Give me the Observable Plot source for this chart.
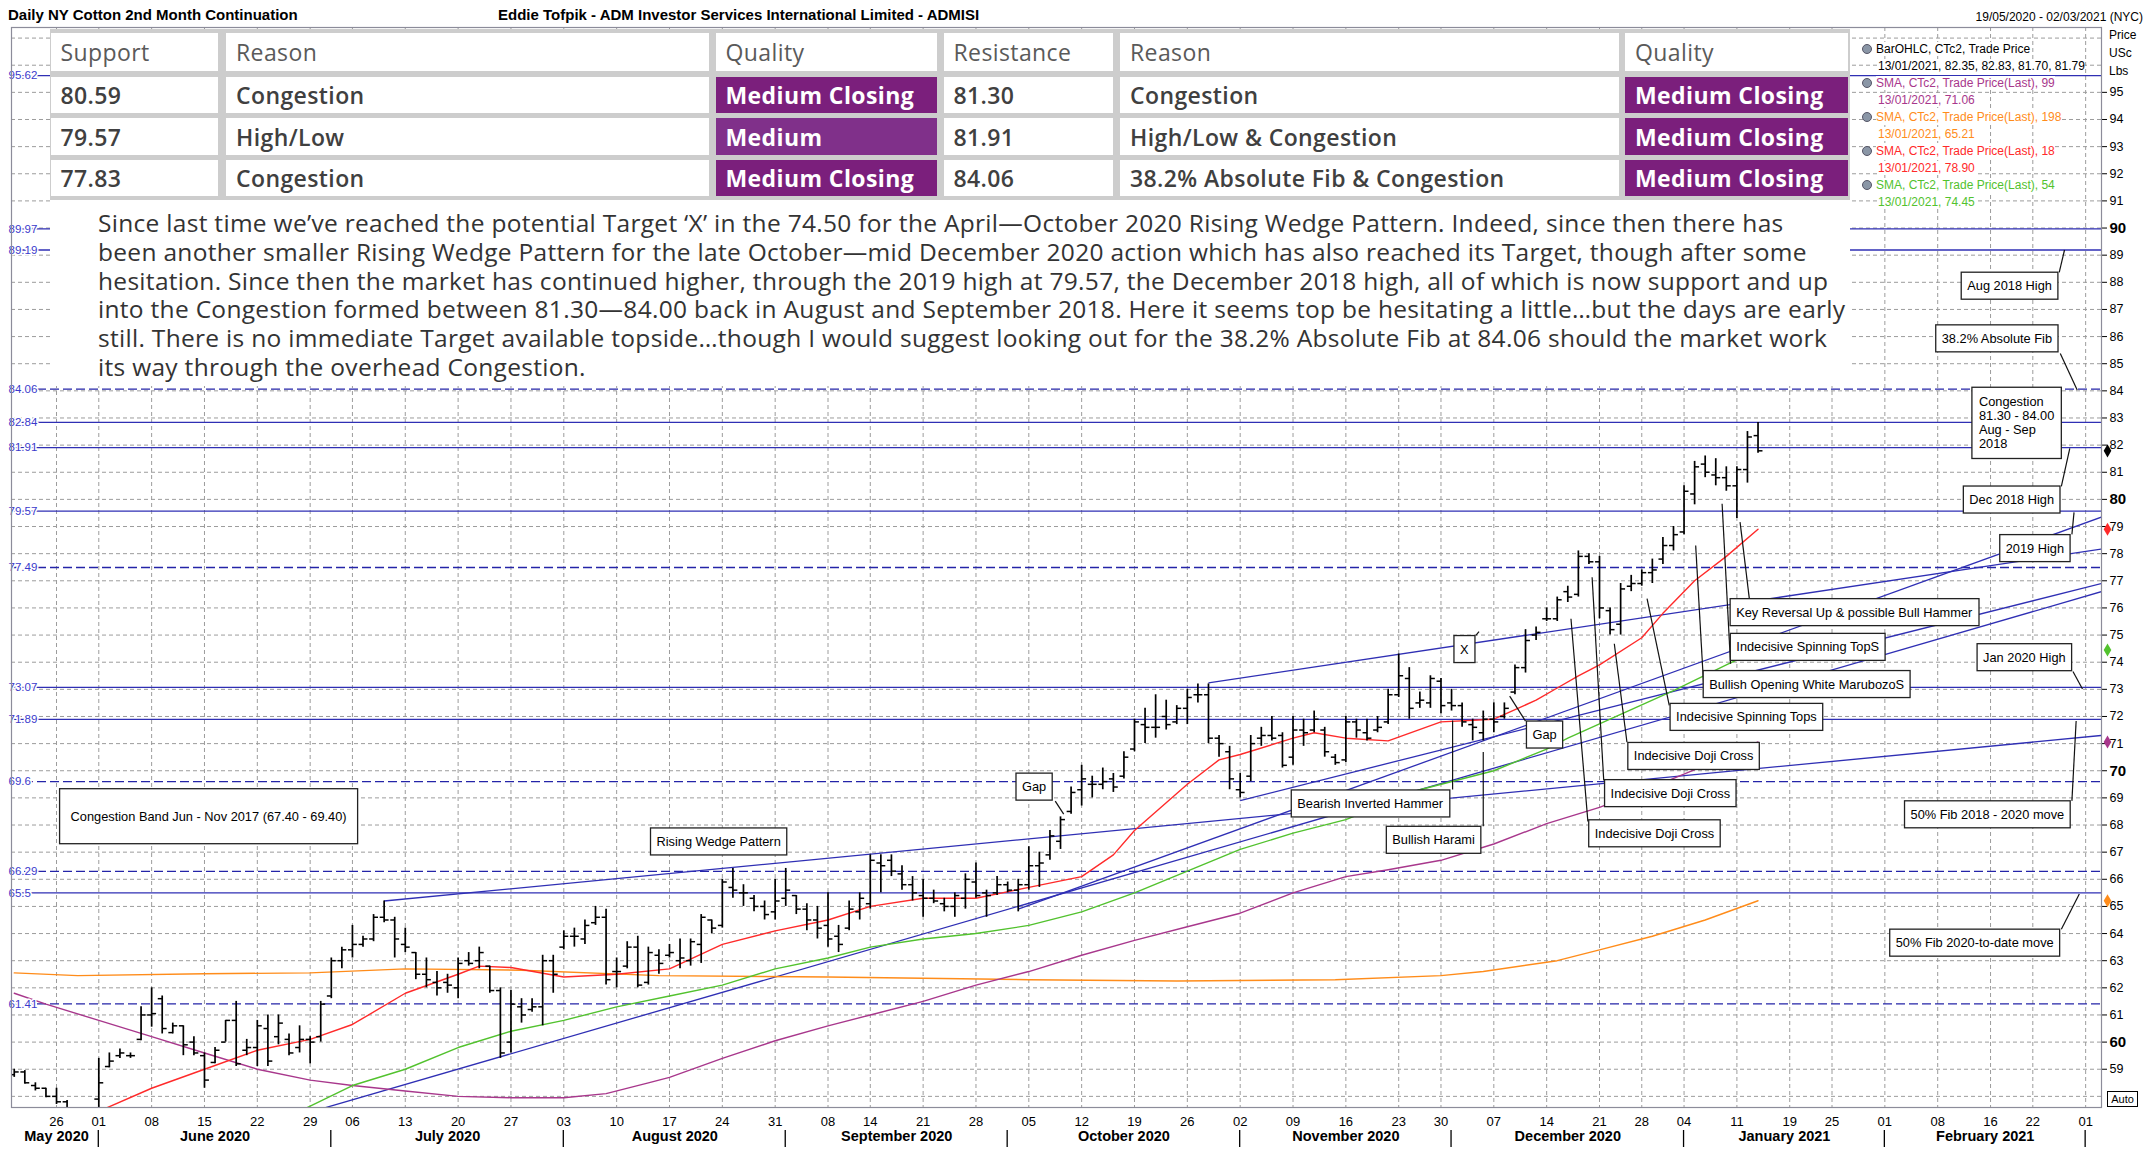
<!DOCTYPE html>
<html>
<head>
<meta charset="utf-8">
<script src="https://cdn.jsdelivr.net/npm/d3@7"></script>
<script src="https://cdn.jsdelivr.net/npm/@observablehq/plot@0.6"></script>
<style>
html,body{margin:0;padding:0;background:#fff;}
#wrap{position:relative;width:2149px;height:1163px;overflow:hidden;font-family:"Liberation Sans",Arial,sans-serif;background:#fff;}
#plot{position:absolute;left:0;top:27px;}
.hdr{position:absolute;top:6px;font-weight:bold;font-size:15px;color:#000;white-space:nowrap;}
#range{position:absolute;top:10px;right:6px;font-size:12px;white-space:nowrap;}
#tbl{position:absolute;left:50px;top:29px;width:1800px;height:171px;background:#cdcdcd;}
.cell{position:absolute;display:flex;align-items:center;box-sizing:border-box;padding-left:10px;font-family:"Open Sans",sans-serif;font-size:23px;letter-spacing:0.4px;white-space:nowrap;background:#fff;color:#404040;font-weight:600;}
.cell.h{color:#5a5a5a;font-weight:500;}
.cell.q{color:#fff;background:#7b1f7c;font-weight:700;}
#para{position:absolute;left:50px;top:200px;width:1800px;height:186px;background:#fff;font-family:"Open Sans",sans-serif;font-size:24.5px;letter-spacing:0.3px;line-height:28.8px;color:#333;box-sizing:border-box;padding:9px 0 0 48px;white-space:nowrap;}
#legend{position:absolute;left:1862px;top:41px;font-size:12px;line-height:17px;}
.lg{white-space:nowrap;height:17px;}
.lg span.t{background:#fff;}
.ico{display:inline-block;width:10px;height:10px;border-radius:50%;background:#8a96a6;border:1px solid #556;box-sizing:border-box;vertical-align:-1px;margin-right:4px;}
.ax{position:absolute;left:2109px;font-size:12px;}
#auto{position:absolute;left:2107px;top:1091px;width:31px;height:16px;border:1px solid #000;font-size:11px;line-height:14px;text-align:center;box-sizing:border-box;background:#fff;}
</style>
</head>
<body>
<div id="wrap">
  <div class="hdr" style="left:8px">Daily NY Cotton 2nd Month Continuation</div>
  <div class="hdr" style="left:498px">Eddie Tofpik - ADM Investor Services International Limited - ADMISI</div>
  <div id="range">19/05/2020 - 02/03/2021 (NYC)</div>
  <div id="plot"></div>
  <div id="tbl"></div>
  <div id="para"></div>
  <div id="legend"></div>
  <div class="ax" style="top:28px">Price</div>
  <div class="ax" style="top:46px">USc</div>
  <div class="ax" style="top:64px">Lbs</div>
  <div id="auto">Auto</div>
</div>
<script>
// ---------------- DATA ----------------
const startDate = "2020-05-19", endDate = "2021-03-02";
const holidays = ["2020-05-25","2020-07-03","2020-09-07","2020-11-26","2020-12-25","2021-01-01","2021-01-18","2021-02-15"];

// OHLC bars, one per trading day from 19/05/2020 to 13/01/2021
const barOpen = [
58.8,58.9,58.4,58.3,58.0,57.8,57.3,57.2,57.9,59.1,
59.5,59.5,60.1,61.0,61.6,60.35,60.6,60.0,59.5,59.25,
60.0,60.8,59.7,59.8,60.5,60.2,60.1,59.8,60.1,60.2,
61.7,63.0,63.4,63.6,63.8,64.6,64.5,63.6,63.3,62.5,
62.2,62.2,62.0,63.0,63.0,62.8,61.9,60.0,61.3,61.2,
61.3,63.0,63.5,63.9,63.8,64.4,64.6,62.6,62.8,63.5,
62.2,63.2,63.2,63.0,63.0,63.6,64.5,64.3,65.7,65.5,
65.3,65.0,64.8,65.3,65.4,64.9,64.5,64.3,63.9,64.2,
64.8,65.1,66.6,66.7,66.2,65.8,65.4,65.3,65.1,65.0,
65.3,65.9,65.5,65.5,65.8,65.6,65.8,66.5,66.9,67.4,
68.5,69.3,69.5,69.5,69.7,69.8,70.8,71.7,71.6,72.0,
71.8,72.3,72.8,72.8,71.2,70.7,69.3,69.8,71.2,71.3,
71.3,70.5,71.5,71.5,71.5,70.5,70.4,71.8,71.4,71.5,
71.8,72.8,73.4,72.5,72.5,73.3,72.5,72.4,71.7,71.4,
71.9,72.0,72.9,73.8,75.0,75.6,75.6,76.6,76.5,77.9,
77.7,75.9,75.4,76.8,76.9,77.3,77.8,78.3,78.8,80.2,
81.3,80.9,80.8,80.5,81.1,82.35];
const barHigh = [
59.0,58.95,58.5,58.3,58.3,57.85,57.5,57.45,59.4,59.6,
59.75,59.6,61.3,62.0,61.7,60.7,60.6,60.2,59.6,59.8,
60.8,61.5,60.1,60.8,61.0,61.0,60.3,60.6,60.2,61.5,
63.1,63.5,64.3,63.9,64.7,65.2,64.6,64.2,63.3,63.1,
62.6,62.5,63.1,63.3,63.5,62.8,62.0,61.9,61.6,61.6,
63.2,63.2,64.1,64.2,64.5,65.0,64.9,63.1,63.7,63.9,
63.5,63.4,63.6,63.8,63.8,64.7,64.5,66.0,66.4,65.8,
65.4,65.2,66.0,66.4,65.4,65.1,65.0,65.5,64.3,65.2,
65.5,66.9,66.9,66.9,66.5,66.1,66.0,65.6,65.3,65.5,
66.2,66.6,65.6,66.1,65.9,66.0,67.2,67.0,67.8,68.3,
69.4,70.2,69.8,70.1,69.9,70.7,71.9,72.3,72.8,72.6,
72.4,73.0,73.2,73.2,71.3,70.9,69.9,71.3,71.6,72.0,
71.4,72.0,71.9,72.2,71.6,70.6,72.0,71.9,71.9,72.0,
73.0,74.3,73.8,72.9,73.5,73.4,73.0,72.5,71.9,72.2,
72.5,72.5,73.9,75.2,75.3,76.0,76.4,76.8,78.1,78.0,
77.9,76.0,76.9,77.2,77.4,77.8,78.6,79.0,80.5,81.4,
81.6,81.5,81.2,81.2,82.5,82.83];
const barLow = [
58.7,58.45,58.2,57.95,57.7,57.45,56.9,56.9,57.4,59.05,
59.4,59.4,60.05,60.55,60.3,60.3,59.5,59.5,58.3,59.2,
60.0,59.1,59.5,59.1,59.1,59.9,59.5,59.6,59.2,60.0,
61.6,62.7,63.1,63.5,63.7,64.4,63.1,63.3,62.3,62.0,
61.7,61.8,61.6,62.8,62.7,61.8,59.4,59.6,60.7,61.1,
60.6,61.8,63.4,63.5,63.6,64.3,62.1,62.0,62.7,62.0,
62.1,62.5,63.1,62.7,62.8,62.9,64.0,64.2,65.3,65.0,
64.8,64.5,64.5,65.0,64.7,64.1,63.8,63.5,63.3,64.1,
64.5,64.9,65.5,66.1,65.6,65.2,64.6,65.1,64.8,64.6,
64.9,65.3,64.6,65.4,65.5,64.8,65.6,65.7,66.7,67.1,
68.4,68.7,69.0,69.3,69.2,69.7,70.7,71.0,71.2,71.5,
71.7,71.7,72.5,71.0,70.5,69.3,69.0,69.6,70.9,71.1,
70.1,70.2,70.9,71.4,70.5,70.2,70.3,71.2,71.1,71.4,
71.7,72.7,71.9,72.3,72.3,72.1,72.2,71.6,71.1,71.1,
71.4,71.9,72.8,73.6,74.8,75.5,75.5,76.2,76.4,77.6,
75.6,75.0,75.0,76.6,76.8,76.9,77.6,78.1,78.7,79.8,
80.8,80.5,80.3,79.3,80.6,81.70];
const barClose = [
58.9,58.5,58.3,58.0,57.8,57.5,57.2,57.3,58.5,59.3,
59.6,59.5,61.0,61.05,60.5,60.6,59.9,59.6,58.6,59.7,
60.8,59.2,59.8,60.6,59.3,60.7,59.6,60.1,60.0,61.4,
63.0,63.4,63.6,63.8,64.6,64.5,63.8,63.5,62.5,62.3,
62.0,62.1,62.9,62.9,63.3,61.9,59.6,61.4,61.0,61.3,
63.0,62.5,63.9,63.9,64.3,64.6,62.3,62.6,63.5,62.1,
63.3,62.9,63.3,63.1,63.7,64.6,64.2,65.9,65.6,65.5,
65.0,64.7,65.2,65.6,64.9,64.5,64.2,63.8,63.6,64.9,
65.3,66.7,66.5,66.3,65.8,65.5,65.3,65.2,65.0,65.4,
66.0,65.4,65.4,65.8,65.6,65.8,66.5,66.6,67.6,68.2,
69.2,69.7,69.5,69.6,69.4,70.5,71.8,71.6,71.6,71.7,
72.3,72.7,72.8,71.2,71.0,69.7,69.2,71.0,71.3,71.2,
70.2,71.5,71.4,71.9,70.7,70.3,71.8,71.5,71.2,71.6,
72.8,73.5,72.3,72.6,73.4,72.4,72.4,71.8,71.6,71.9,
71.8,72.3,73.8,74.8,75.1,75.6,76.3,76.4,77.9,77.7,
76.0,75.2,76.7,76.9,77.3,77.4,78.3,78.7,80.3,81.2,
81.0,80.8,80.5,81.1,82.3,81.79];

// Moving averages (trading day number, value)
const sma18Day = [8,13,18,23,28,32,37,42,44,47,52,57,62,67,72,77,81,86,91,96,101,104,106,111,114,116,121,123,126,130,135,140,144,146,148,150,154,156,159,162,165];
const sma18Val = [57.45,58.3,59.0,59.7,60.1,60.65,61.8,62.5,62.8,62.75,62.4,62.5,62.7,63.6,64.1,64.5,65.0,65.3,65.3,65.7,66.1,66.9,67.8,69.5,70.4,70.6,71.2,71.4,71.2,71.1,71.8,71.9,72.6,73.05,73.5,73.9,74.9,75.8,77.0,77.9,78.9];
const sma54Day = [27,32,37,42,47,52,57,62,67,72,77,81,86,91,96,101,106,111,116,121,126,133,140,145,147,157,162,165];
const sma54Val = [57.45,58.4,59.0,59.8,60.4,60.8,61.3,61.7,62.1,62.7,63.1,63.5,63.8,64.0,64.3,64.8,65.5,66.3,67.1,67.7,68.2,69.3,70.0,70.8,71.2,72.95,73.9,74.45];
const sma99Day = [0,3,8,13,18,23,28,32,37,42,47,52,56,60,62,67,72,77,81,86,91,96,101,106,111,116,121,126,130,135,140,145,150,155,160,165];
const sma99Val = [61.8,61.4,60.8,60.2,59.6,59.0,58.6,58.4,58.2,58.0,57.95,57.95,58.1,58.5,58.7,59.4,60.05,60.6,61.0,61.5,62.1,62.6,63.2,63.75,64.25,64.75,65.5,66.1,66.35,66.7,67.3,68.05,68.65,69.4,70.2,71.06];
const sma198Day = [0,6,18,28,37,48,61,77,96,110,125,135,139,146,150,155,160,165];
const sma198Val = [62.55,62.45,62.52,62.55,62.7,62.65,62.45,62.4,62.3,62.25,62.3,62.45,62.6,63.0,63.4,63.9,64.5,65.21];

// Last values shown at the price axis
const lastLabels = ["Bar","SMA 18","SMA 54","SMA 99","SMA 198"];
const lastValues = [81.79,78.90,74.45,71.06,65.21];

// Horizontal levels
const solidLevels = [95.62,89.97,89.19,82.84,81.91,79.57,73.07,71.89,65.5];
const dashedLevels = [84.06,77.49,69.6,66.29,61.41];
const levelLabelValues = [95.62,89.97,89.19,84.06,82.84,81.91,79.57,77.49,73.07,71.89,69.6,66.29,65.5,61.41];
const levelLabelTexts = ["95.62","89.97","89.19","84.06","82.84","81.91","79.57","77.49","73.07","71.89","69.6","66.29","65.5","61.41"];

// Trend lines (start day, start price, end day, end price)
const trendDay1 = [35,113,28.7,95,116];
const trendVal1 = [65.2,73.24,57.5,64.9,68.9];
const trendDay2 = [197.5,197.5,197.5,197.5,197.5];
const trendVal2 = [71.3,78.17,76.6,79.35,76.9];

// Annotations: text, box centre (day, price), leader from (day, price) to (day, price)
const annoText = ["Congestion Band Jun - Nov 2017 (67.40 - 69.40)","Rising Wedge Pattern","Gap","X","Gap","Bearish Inverted Hammer","Bullish Harami","Indecisive Doji Cross","Indecisive Doji Cross","Indecisive Doji Cross","Indecisive Spinning Tops","Bullish Opening White MarubozoS","Indecisive Spinning TopS","Key Reversal Up & possible Bull Hammer","2019 High","Dec 2018 High","38.2% Absolute Fib","Aug 2018 High","Jan 2020 High","50% Fib 2018 - 2020 move","50% Fib 2020-to-date move"];
const annoDay = [18.39,66.65,96.5,137.2,144.8,128.3,134.3,158.9,156.7,155.2,163.9,169.6,169.7,174.1,191.2,189.0,187.6,188.8,190.2,186.7,185.5];
const annoPrice = [68.31,67.38,69.40,74.47,71.32,68.78,67.44,70.53,69.16,67.68,71.97,73.18,74.55,75.83,78.19,79.98,85.92,87.86,74.17,68.38,63.65];
const leadFromDay = [null,null,98.5,138.3,143.0,136.1,139.0,152.6,150.4,148.9,156.6,159.9,162.4,164.2,194.7,193.7,193.6,193.5,194.8,194.7,193.7];
const leadFromPrice = [null,null,68.88,74.99,71.83,69.31,67.95,71.05,69.64,68.13,72.41,72.84,73.94,76.27,78.71,80.48,85.38,88.37,73.66,68.89,64.16];
const leadToDay = [null,null,99.3,138.6,141.5,136.1,139.0,151.4,149.3,147.3,154.5,159.1,161.6,163.3,194.9,194.5,195.2,194.0,195.7,195.1,195.4];
const leadToPrice = [null,null,68.4,75.13,72.75,71.85,70.69,74.68,77.13,75.6,76.34,78.3,79.84,79.16,79.52,81.88,84.03,89.19,73.01,71.83,65.46];
const noteText = "Congestion\n81.30 - 84.00\nAug - Sep\n2018";
const noteDay = 185.9, notePrice = 82.82;

// Axis labels
const tickDates = ["2020-05-26","2020-06-01","2020-06-08","2020-06-15","2020-06-22","2020-06-29","2020-07-06","2020-07-13","2020-07-20","2020-07-27","2020-08-03","2020-08-10","2020-08-17","2020-08-24","2020-08-31","2020-09-08","2020-09-14","2020-09-21","2020-09-28","2020-10-05","2020-10-12","2020-10-19","2020-10-26","2020-11-02","2020-11-09","2020-11-16","2020-11-23","2020-11-30","2020-12-07","2020-12-14","2020-12-21","2020-12-28","2021-01-04","2021-01-11","2021-01-19","2021-01-25","2021-02-01","2021-02-08","2021-02-16","2021-02-22","2021-03-01"];
const monthNames = ["May 2020","June 2020","July 2020","August 2020","September 2020","October 2020","November 2020","December 2020","January 2021","February 2021"];
const monthStarts = ["2020-05-19","2020-06-01","2020-07-01","2020-08-03","2020-09-01","2020-10-01","2020-11-02","2020-12-01","2021-01-04","2021-02-01","2021-03-01"];
const priceTicks = [59,61,62,63,64,65,66,67,68,69,71,72,73,74,75,76,77,78,79,81,82,83,84,85,86,87,88,89,91,92,93,94,95];
const boldTicks = [60,70,80,90];
const gridPrices = [58,59,60,61,62,63,64,65,66,67,68,69,70,71,72,73,74,75,76,77,78,79,80,81,82,83,84,85,86,87,88,89,90,91,92,93,94,95,96,97];

// Table
const tableHeader = ["Support","Reason","Quality","Resistance","Reason","Quality"];
const supportLevels = ["80.59","79.57","77.83"];
const supportReasons = ["Congestion","High/Low","Congestion"];
const supportQuality = ["Medium Closing","Medium","Medium Closing"];
const resistanceLevels = ["81.30","81.91","84.06"];
const resistanceReasons = ["Congestion","High/Low & Congestion","38.2% Absolute Fib & Congestion"];
const resistanceQuality = ["Medium Closing","Medium Closing","Medium Closing"];
const commentary = [
"Since last time we\u2019ve reached the potential Target \u2018X\u2019 in the 74.50 for the April\u2014October 2020 Rising Wedge Pattern. Indeed, since then there has",
"been another smaller Rising Wedge Pattern for the late October\u2014mid December 2020 action which has also reached its Target, though after some",
"hesitation. Since then the market has continued higher, through the 2019 high at 79.57, the December 2018 high, all of which is now support and up",
"into the Congestion formed between 81.30\u201484.00 back in August and September 2018. Here it seems top be hesitating a little\u2026but the days are early",
"still. There is no immediate Target available topside\u2026though I would suggest looking out for the 38.2% Absolute Fib at 84.06 should the market work",
"its way through the overhead Congestion."];
const legendLines = [
 ["BarOHLC, CTc2, Trade Price", "bar", true],
 ["13/01/2021, 82.35, 82.83, 81.70, 81.79", "bar", false],
 ["SMA, CTc2, Trade Price(Last),  99", "s99", true],
 ["13/01/2021, 71.06", "s99", false],
 ["SMA, CTc2, Trade Price(Last),  198", "s198", true],
 ["13/01/2021, 65.21", "s198", false],
 ["SMA, CTc2, Trade Price(Last),  18", "s18", true],
 ["13/01/2021, 78.90", "s18", false],
 ["SMA, CTc2, Trade Price(Last),  54", "s54", true],
 ["13/01/2021, 74.45", "s54", false]];

// ---------------- STYLE ----------------
const col = {bar:"#000000", s18:"#ff2a2a", s54:"#52c22e", s99:"#a8378c", s198:"#ff8c1a"};
const blue = "#2f2fb4", gridCol = "#9c9c9c";

// ---------------- BUILD ----------------
const cal = [];
for (let d = new Date(startDate + "T00:00:00Z"); d <= new Date(endDate + "T00:00:00Z"); d.setUTCDate(d.getUTCDate() + 1)) {
  const s = d.toISOString().slice(0, 10), wd = d.getUTCDay();
  if (wd === 0 || wd === 6 || holidays.includes(s)) continue;
  cal.push(s);
}
const dayIndex = s => cal.indexOf(s);
const tickIdx = tickDates.map(dayIndex);
const bars = barOpen.map((o, k) => ({i: k, o, h: barHigh[k], l: barLow[k], c: barClose[k]}));
const pts = (days, vals) => days.map((d, k) => ({d, v: vals[k]}));
const trends = trendDay1.map((d, k) => ({x1: d, y1: trendVal1[k], x2: trendDay2[k], y2: trendVal2[k]}));
const annos = annoText.map((t, k) => ({t, d: annoDay[k], v: annoPrice[k]}));
const leaders = annoText.map((t, k) => ({x1: leadFromDay[k], y1: leadFromPrice[k], x2: leadToDay[k], y2: leadToPrice[k]})).filter(a => a.x1 != null);
const startIdx = monthStarts.map(dayIndex);
const months = monthNames.map((m, k) => ({m, mid: (startIdx[k] + startIdx[k + 1]) / 2}));
const sepIdx = startIdx.slice(1);
const lastCols = [col.bar, col.s18, col.s54, col.s99, col.s198];
const lasts = lastValues.map((v, k) => ({v, c: lastCols[k], n: lastLabels[k]}));
const levelLabels = levelLabelValues.map((v, k) => ({v, t: levelLabelTexts[k]}));

function monthSeparators(index, scales, values, dims) {
  const g = d3.create("svg:g");
  const yb = dims.height - dims.marginBottom;
  for (const i of sepIdx) {
    const px = scales.x(i);
    g.append("line").attr("x1", px).attr("x2", px).attr("y1", yb + 23).attr("y2", yb + 40)
      .attr("stroke", "#000").attr("stroke-width", 1.3);
  }
  return g.node();
}

const chart = Plot.plot({
  width: 2149, height: 1136,
  marginTop: 0, marginBottom: 56, marginLeft: 11, marginRight: 48,
  x: {domain: [-0.26, 197.5], axis: null},
  y: {domain: [57.59, 97.39], axis: null},
  style: {fontFamily: '"Liberation Sans", Arial, sans-serif', background: "transparent", overflow: "visible", color: "#000"},
  marks: [
    Plot.ruleY(gridPrices, {stroke: gridCol, strokeDasharray: "4,3", strokeWidth: 1}),
    Plot.ruleX(tickIdx, {stroke: gridCol, strokeDasharray: "4,3", strokeWidth: 1}),
    Plot.ruleY(solidLevels, {stroke: blue, strokeWidth: 1.3}),
    Plot.ruleY(dashedLevels, {stroke: "#2424a8", strokeWidth: 1.3, strokeDasharray: "9,4"}),
    Plot.link(trends, {x1: "x1", y1: "y1", x2: "x2", y2: "y2", stroke: blue, strokeWidth: 1.3, clip: true}),
    Plot.line(pts(sma198Day, sma198Val), {x: "d", y: "v", stroke: col.s198, strokeWidth: 1.4, clip: true}),
    Plot.line(pts(sma99Day, sma99Val), {x: "d", y: "v", stroke: col.s99, strokeWidth: 1.4, clip: true}),
    Plot.line(pts(sma54Day, sma54Val), {x: "d", y: "v", stroke: col.s54, strokeWidth: 1.4, clip: true}),
    Plot.line(pts(sma18Day, sma18Val), {x: "d", y: "v", stroke: col.s18, strokeWidth: 1.4, clip: true}),
    Plot.ruleX(bars, {x: "i", y1: "l", y2: "h", stroke: "#000", strokeWidth: 1.7, clip: true}),
    Plot.link(bars, {x1: d => d.i - 0.42, x2: "i", y1: "o", y2: "o", stroke: "#000", strokeWidth: 1.5, clip: true}),
    Plot.link(bars, {x1: "i", x2: d => d.i + 0.42, y1: "c", y2: "c", stroke: "#000", strokeWidth: 1.5, clip: true}),
    Plot.link(leaders, {x1: "x1", y1: "y1", x2: "x2", y2: "y2", stroke: "#111", strokeWidth: 1.2}),
    Plot.text(annos, {x: "d", y: "v", text: "t", fontSize: 12.8, fill: "#000", ariaDescription: "anno"}),
    Plot.text([noteText], {x: () => noteDay, y: () => notePrice, text: d => d, textAnchor: "start", lineHeight: 1.1, fontSize: 12.8, fill: "#000", ariaDescription: "note"}),
    Plot.text(levelLabels, {y: "v", text: "t", frameAnchor: "left", textAnchor: "start", dx: -3, fill: "#3a3acc", fontSize: 11.5, stroke: "white", strokeWidth: 3, paintOrder: "stroke"}),
    Plot.axisX({ticks: tickIdx, tickFormat: i => cal[i].slice(8, 10), tickSize: 0, tickPadding: 9, fontSize: 13, label: null}),
    Plot.axisY({anchor: "right", ticks: priceTicks, tickSize: 5, tickPadding: 3, fontSize: 12.5, label: null, tickFormat: d => d}),
    Plot.axisY({anchor: "right", ticks: boldTicks, tickSize: 5, tickPadding: 3, fontSize: 15, fontWeight: "bold", label: null, tickFormat: d => d}),
    Plot.text(months, {x: "mid", text: "m", frameAnchor: "bottom", dy: 33, fontSize: 14.5, fontWeight: "bold"}),
    monthSeparators,
    Plot.dot(lasts, {frameAnchor: "right", y: "v", dx: 6, symbol: "diamond", r: 4, fill: "c", stroke: "none"}),
    Plot.frame({stroke: "#8c8c9a", strokeWidth: 1.2})
  ]
});
document.getElementById("plot").appendChild(chart);

// boxes behind annotation texts
const NS = "http://www.w3.org/2000/svg";
function boxify(sel, pad) {
  chart.querySelectorAll(sel).forEach(t => {
    const b = t.getBBox();
    const [px, py] = pad(t.textContent);
    const r = document.createElementNS(NS, "rect");
    r.setAttribute("x", b.x - px); r.setAttribute("y", b.y - py);
    r.setAttribute("width", b.width + 2 * px); r.setAttribute("height", b.height + 2 * py);
    r.setAttribute("fill", "#fff"); r.setAttribute("stroke", "#222"); r.setAttribute("stroke-width", "1.3");
    const tr = t.getAttribute("transform"); if (tr) r.setAttribute("transform", tr);
    t.parentNode.insertBefore(r, t);
  });
}
boxify('g[aria-description="anno"] text', s => s.startsWith("Congestion Band") ? [11, 20] : [6, 6]);
boxify('g[aria-description="note"] text', s => [7, 7]);

// table
const colX = [[50.5,217.5],[226,708.5],[715.5,936.5],[943.5,1113],[1120,1618.5],[1625,1848]];
const rowY = [[33,71],[77,113],[118,155],[160,196]];
const tbl = document.getElementById("tbl");
const rows = [tableHeader];
for (let k = 0; k < 3; k++) rows.push([supportLevels[k], supportReasons[k], supportQuality[k], resistanceLevels[k], resistanceReasons[k], resistanceQuality[k]]);
rows.forEach((r, ri) => r.forEach((txt, ci) => {
  const c = document.createElement("div");
  c.className = "cell" + (ri === 0 ? " h" : (ci === 2 || ci === 5) ? " q" : "");
  if (ri === 2 && ci === 2) c.style.background = "#80308a";
  c.style.left = (colX[ci][0] - 50) + "px"; c.style.width = (colX[ci][1] - colX[ci][0]) + "px";
  c.style.top = (rowY[ri][0] - 29) + "px"; c.style.height = (rowY[ri][1] - rowY[ri][0]) + "px";
  c.textContent = txt;
  tbl.appendChild(c);
}));
const para = document.getElementById("para");
commentary.forEach(l => { const d = document.createElement("div"); d.textContent = l; para.appendChild(d); });
const lg = document.getElementById("legend");
legendLines.forEach(([t, k, icon]) => {
  const d = document.createElement("div"); d.className = "lg";
  d.style.paddingLeft = icon ? "0px" : "16px";
  if (icon) { const i = document.createElement("span"); i.className = "ico"; d.appendChild(i); }
  const s = document.createElement("span"); s.className = "t"; s.textContent = t; s.style.color = col[k];
  d.appendChild(s); lg.appendChild(d);
});
</script>
</body>
</html>
